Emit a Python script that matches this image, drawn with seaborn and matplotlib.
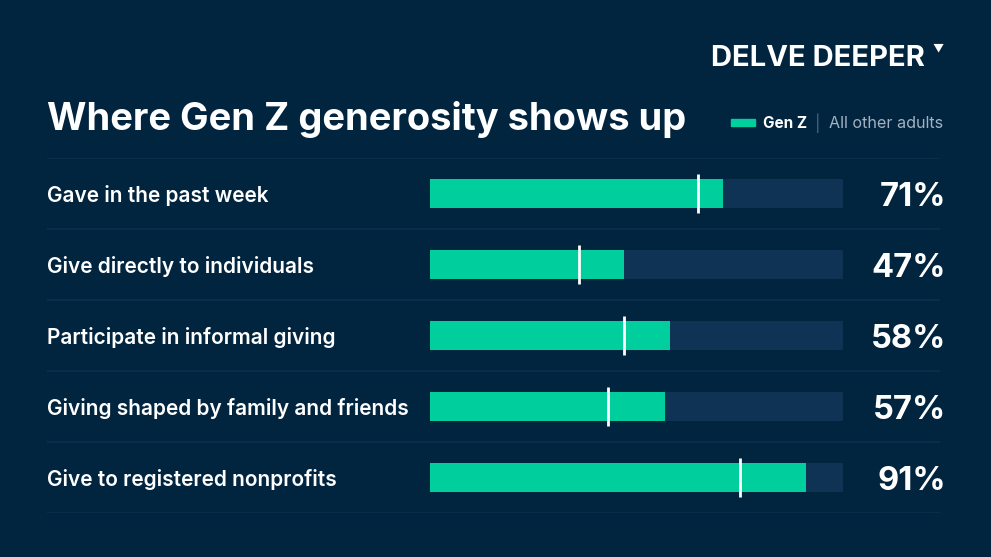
import pandas as pd
import seaborn as sns
import matplotlib.pyplot as plt
from matplotlib.patches import Rectangle

# data
categories = ['Gave in the past week', 'Give directly to individuals',
              'Participate in informal giving', 'Giving shaped by family and friends',
              'Give to registered nonprofits']
gen_z = [71, 47, 58, 57, 91]
other_adults = [65, 36, 47, 43, 75]
track = [100, 100, 100, 100, 100]

bg = '#01243f'
green = '#00cf9d'
trackc = '#0e3355'
sep = '#0f304d'

df = pd.DataFrame({'cat': categories, 'genz': gen_z, 'other': other_adults, 'track': track})

sns.set_theme(style='white')
plt.rcParams['font.family'] = ['Inter', 'DejaVu Sans']

fig = plt.figure(figsize=(9.91, 5.57), dpi=100, facecolor=bg)
ax = fig.add_axes([47 / 991, 1 - 513 / 557, 893 / 991, 355 / 557])
ax.set_facecolor(bg)

sns.barplot(data=df, x='track', y='cat', color=trackc, width=0.41, ax=ax,
            saturation=1, linewidth=0, orient='h')
sns.barplot(data=df, x='genz', y='cat', color=green, width=0.41, ax=ax,
            saturation=1, linewidth=0, orient='h')
ax.vlines(df['other'], df.index - 0.27, df.index + 0.27, color='white', lw=2)

ax.set_xlim(-92.74, 123.49)
ax.set_ylim(4.5, -0.5)
ax.set_xlabel('')
ax.set_ylabel('')
ax.set_xticks([])
ax.set_yticks([])
for s in ax.spines.values():
    s.set_visible(False)

for y in [-0.5, 0.5, 1.5, 2.5, 3.5, 4.5]:
    ax.axhline(y, color=sep, lw=1.2, zorder=0)

for i, row in df.iterrows():
    ax.text(-92.74, i + 0.03, row['cat'], color='white', fontsize=15, fontweight='semibold',
            ha='left', va='center')
    ax.text(124.9, i + 0.055, f"{row['genz']}%", color='white', fontsize=23.5,
            fontweight='bold', ha='right', va='center', clip_on=False)

# title, logo, legend
fig.text(47 / 991, 1 - 120 / 557, 'Where Gen Z generosity shows up', color='white',
         fontsize=27.4, fontweight='bold', ha='left', va='center')
fig.text(925 / 991, 1 - 58 / 557, 'DELVE DEEPER', color='white', fontsize=21,
         fontweight='bold', ha='right', va='center')
fig.text(938 / 991, 1 - 48 / 557, '\u25bc', color='white', fontsize=8,
         ha='center', va='center')

fig.patches.append(Rectangle((731 / 991, 1 - 126 / 557), 24 / 991, 7 / 557,
                             transform=fig.transFigure, color=green, figure=fig))
fig.text(763 / 991, 1 - 123 / 557, 'Gen Z', color='white', fontsize=11,
         fontweight='bold', ha='left', va='center')
fig.text(818 / 991, 1 - 123 / 557, '|', color='#4a6580', fontsize=12,
         ha='center', va='center')
fig.text(943 / 991, 1 - 123 / 557, 'All other adults', color='#a3b2c2', fontsize=11.6,
         ha='right', va='center')

fig.savefig('out.png', dpi=100, facecolor=bg)
